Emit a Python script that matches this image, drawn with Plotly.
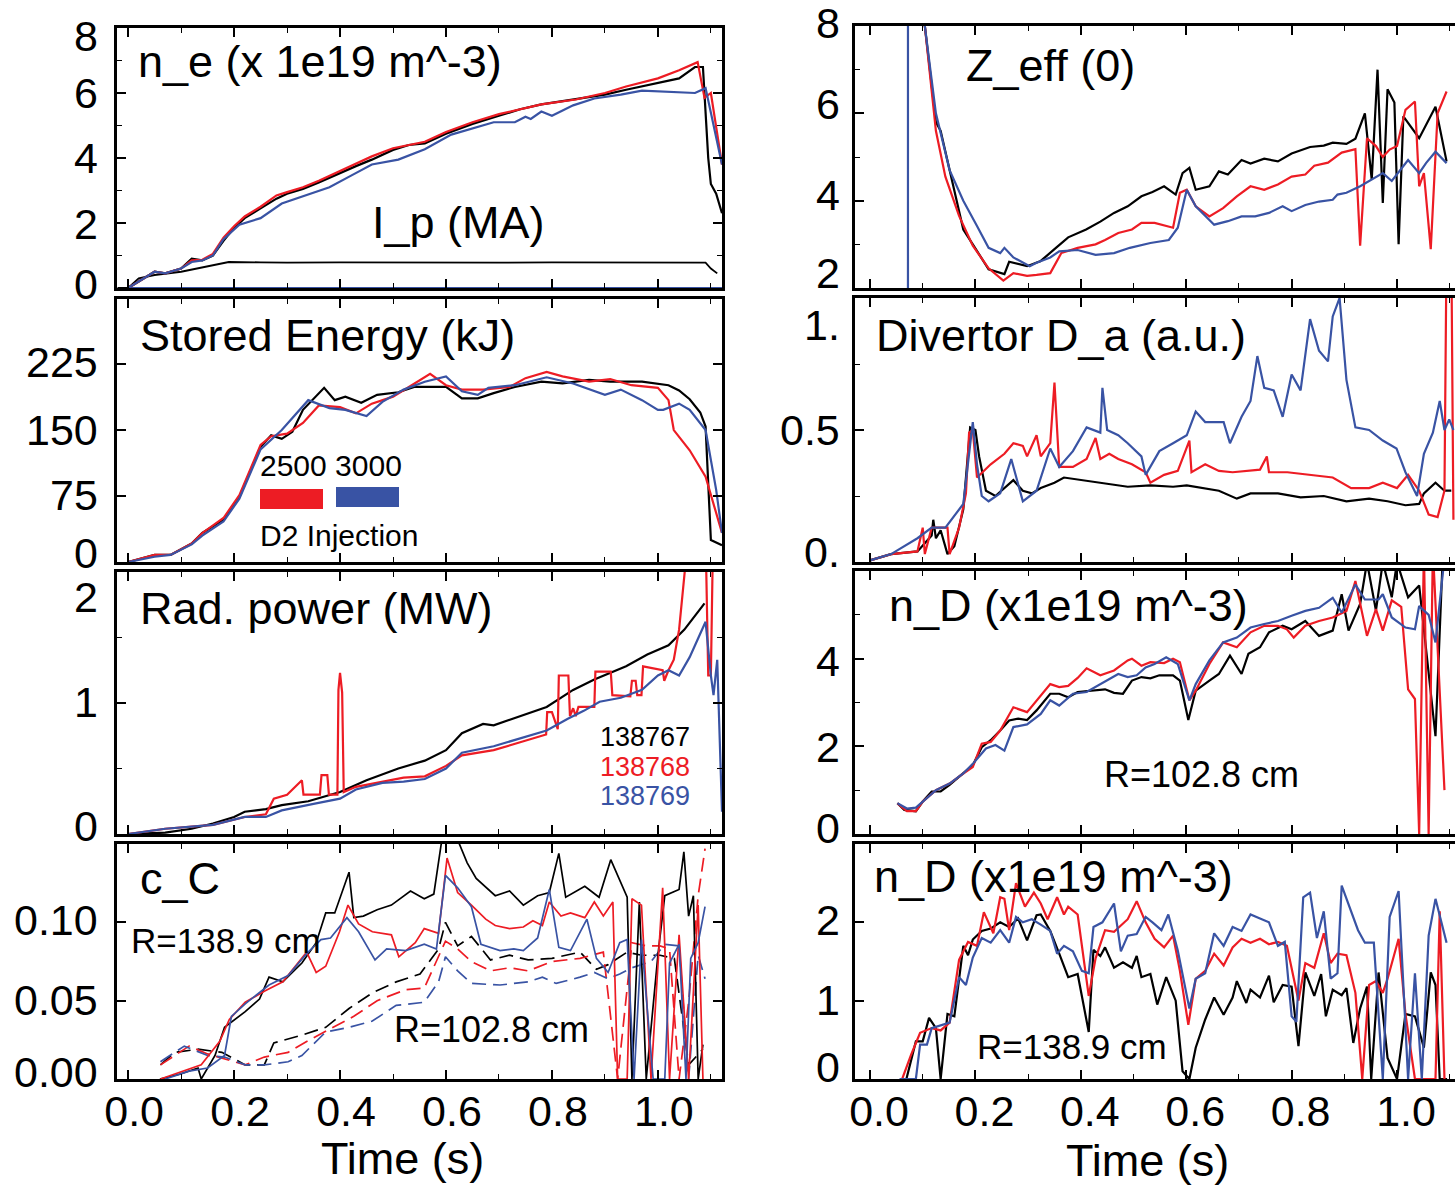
import plotly.graph_objects as go

W, H = 1455, 1185
BLACK, RED, BLUE = "#000000", "#ED1C24", "#3953A4"
FONT = "Liberation Sans, Arial, Helvetica, sans-serif"

# ---------------- DATA ----------------
# Panel 1: n_e (x 1e19 m^-3) and I_p (MA)
ne_black_t = [0, 0.03, 0.05, 0.07, 0.1, 0.12, 0.14, 0.16, 0.18, 0.2, 0.22, 0.25, 0.28, 0.3, 0.33, 0.36, 0.4, 0.43, 0.46, 0.5, 0.53, 0.56, 0.6, 0.65, 0.7, 0.74, 0.78, 0.845, 0.9, 0.94, 1.0, 1.04, 1.07, 1.085, 1.095, 1.10, 1.11, 1.121]
ne_black_v = [0, 0.3, 0.5, 0.45, 0.6, 0.9, 0.85, 1.0, 1.45, 1.85, 2.15, 2.45, 2.75, 2.9, 3.05, 3.25, 3.55, 3.75, 3.95, 4.25, 4.4, 4.45, 4.75, 5.05, 5.3, 5.5, 5.65, 5.8, 5.95, 6.1, 6.3, 6.45, 6.8, 6.8, 4.0, 3.2, 2.9, 2.3]
ne_red_t = [0, 0.03, 0.05, 0.07, 0.1, 0.12, 0.14, 0.16, 0.18, 0.2, 0.22, 0.25, 0.28, 0.3, 0.33, 0.36, 0.4, 0.43, 0.46, 0.5, 0.53, 0.56, 0.6, 0.65, 0.7, 0.74, 0.78, 0.845, 0.9, 0.94, 1.0, 1.04, 1.075, 1.088, 1.1, 1.121]
ne_red_v = [0, 0.3, 0.5, 0.45, 0.6, 0.85, 0.87, 1.05, 1.55, 1.9, 2.2, 2.5, 2.85, 2.95, 3.1, 3.3, 3.6, 3.8, 4.05, 4.3, 4.4, 4.5, 4.8, 5.1, 5.35, 5.5, 5.65, 5.8, 6.0, 6.2, 6.45, 6.7, 6.95, 5.85, 6.0, 3.8]
ne_blue_t = [0, 0.03, 0.05, 0.07, 0.1, 0.12, 0.14, 0.16, 0.18, 0.21, 0.25, 0.29, 0.35, 0.38, 0.42, 0.46, 0.51, 0.56, 0.61, 0.65, 0.69, 0.73, 0.75, 0.76, 0.78, 0.80, 0.84, 0.88, 0.93, 0.97, 1.01, 1.07, 1.09, 1.121]
ne_blue_v = [0, 0.3, 0.5, 0.45, 0.6, 0.8, 0.85, 1.0, 1.5, 1.95, 2.15, 2.6, 2.92, 3.1, 3.45, 3.8, 3.95, 4.27, 4.72, 4.9, 5.1, 5.1, 5.27, 5.2, 5.43, 5.3, 5.62, 5.83, 5.95, 6.07, 6.05, 6.0, 6.15, 3.8]
ip_black_t = [-0.02, 0.0, 0.02, 0.05, 0.1, 0.13, 0.16, 0.19, 0.25, 0.3, 0.4, 0.5, 0.6, 0.7, 0.8, 0.9, 1.0, 1.05, 1.09, 1.10, 1.112]
ip_black_v = [0, 0, 0.3, 0.4, 0.5, 0.6, 0.7, 0.8, 0.79, 0.78, 0.79, 0.78, 0.79, 0.78, 0.79, 0.78, 0.79, 0.78, 0.78, 0.6, 0.45]
ip_blue_t = [0.0, 1.121]
ip_blue_v = [0, 0]

# Panel 2: Stored energy (kJ)
we_black_t = [0, 0.05, 0.08, 0.12, 0.14, 0.18, 0.21, 0.25, 0.27, 0.29, 0.31, 0.33, 0.37, 0.39, 0.41, 0.44, 0.47, 0.51, 0.54, 0.6, 0.63, 0.66, 0.69, 0.73, 0.78, 0.82, 0.87, 0.91, 0.97, 1.02, 1.04, 1.06, 1.08, 1.09, 1.1, 1.121]
we_black_v = [0, 8, 8, 21, 33, 48, 74, 131, 144, 140, 148, 173, 198, 184, 188, 181, 190, 193, 199, 199, 186, 186, 192, 199, 205, 203, 207, 205, 205, 201, 195, 185, 170, 154, 25, 19]
we_red_t = [0, 0.05, 0.08, 0.12, 0.14, 0.18, 0.21, 0.25, 0.27, 0.30, 0.33, 0.36, 0.40, 0.43, 0.46, 0.50, 0.53, 0.57, 0.60, 0.63, 0.67, 0.72, 0.75, 0.79, 0.82, 0.87, 0.91, 0.95, 1.0, 1.02, 1.03, 1.06, 1.09, 1.121]
we_red_v = [0, 8, 8, 21, 33, 50, 76, 133, 143, 146, 158, 178, 176, 169, 180, 188, 199, 214, 201, 196, 196, 199, 209, 216, 211, 205, 208, 201, 198, 184, 150, 127, 97, 33]
we_blue_t = [0, 0.05, 0.08, 0.12, 0.14, 0.18, 0.21, 0.25, 0.29, 0.34, 0.38, 0.41, 0.45, 0.48, 0.52, 0.56, 0.6, 0.63, 0.66, 0.68, 0.73, 0.79, 0.84, 0.9, 0.93, 0.97, 1.0, 1.01, 1.04, 1.06, 1.09, 1.11, 1.121]
we_blue_v = [0, 6, 8, 20, 30, 46, 72, 128, 150, 184, 175, 173, 166, 182, 196, 205, 211, 194, 190, 198, 201, 210, 203, 190, 196, 184, 173, 173, 180, 173, 150, 82, 33]

# Panel 3: Radiated power (MW)
pr_black_t = [0, 0.07, 0.12, 0.16, 0.2, 0.22, 0.26, 0.29, 0.34, 0.4, 0.45, 0.51, 0.56, 0.6, 0.63, 0.67, 0.69, 0.74, 0.79, 0.84, 0.88, 0.94, 0.98, 1.02, 1.05, 1.088]
pr_black_v = [0, 0.01, 0.04, 0.08, 0.13, 0.17, 0.19, 0.22, 0.25, 0.32, 0.41, 0.5, 0.56, 0.64, 0.77, 0.84, 0.83, 0.9, 0.97, 1.1, 1.18, 1.28, 1.37, 1.44, 1.56, 1.76]
pr_red_t = [0, 0.07, 0.16, 0.22, 0.26, 0.275, 0.30, 0.328, 0.331, 0.362, 0.365, 0.376, 0.379, 0.395, 0.397, 0.40, 0.404, 0.407, 0.43, 0.48, 0.52, 0.56, 0.6, 0.63, 0.69, 0.74, 0.789, 0.791, 0.80, 0.811, 0.813, 0.831, 0.834, 0.84, 0.845, 0.85, 0.88, 0.882, 0.911, 0.914, 0.948, 0.951, 0.958, 0.961, 0.969, 0.972, 1.009, 1.012, 1.02, 1.03, 1.04, 1.053, 1.06, 1.089, 1.095, 1.10, 1.105, 1.11]
pr_red_v = [0, 0.04, 0.07, 0.13, 0.15, 0.27, 0.3, 0.41, 0.3, 0.3, 0.45, 0.45, 0.3, 0.3, 1.1, 1.23, 1.08, 0.32, 0.36, 0.4, 0.43, 0.44, 0.52, 0.6, 0.64, 0.7, 0.76, 0.93, 0.93, 0.8, 1.21, 1.21, 0.9, 0.96, 0.9, 0.97, 0.97, 1.24, 1.24, 1.06, 1.05, 1.17, 1.17, 1.06, 1.06, 1.28, 1.25, 1.17, 1.25, 1.33, 1.56, 2.1, 2.5, 2.5, 1.21, 1.21, 2.5, 2.5]
pr_blue_t = [0, 0.07, 0.16, 0.22, 0.26, 0.29, 0.35, 0.4, 0.43, 0.48, 0.52, 0.56, 0.6, 0.63, 0.69, 0.74, 0.79, 0.83, 0.86, 0.89, 0.93, 0.97, 1.0, 1.02, 1.04, 1.06, 1.09, 1.1, 1.105, 1.112, 1.121]
pr_blue_v = [0, 0.04, 0.07, 0.13, 0.13, 0.18, 0.23, 0.27, 0.34, 0.39, 0.4, 0.42, 0.5, 0.62, 0.67, 0.73, 0.79, 0.88, 0.94, 1.01, 1.04, 1.1, 1.21, 1.25, 1.21, 1.35, 1.62, 1.21, 1.06, 1.33, 0.17]

# Panel 4: carbon concentration c_C, R=138.9 cm (solid) and R=102.8 cm (dashed)
cc_out_black_t = [0.06, 0.097, 0.132, 0.138, 0.164, 0.182, 0.221, 0.248, 0.266, 0.292, 0.328, 0.355, 0.373, 0.39, 0.417, 0.426, 0.444, 0.47, 0.497, 0.533, 0.559, 0.577, 0.591, 0.613, 0.64, 0.657, 0.693, 0.72, 0.746, 0.773, 0.795, 0.813, 0.826, 0.862, 0.889, 0.911, 0.942, 0.951, 0.965, 0.978, 1.0, 1.013, 1.04, 1.049, 1.058, 1.067, 1.076, 1.085]
cc_out_black_v = [0, 0.003, 0.007, 0, 0.015, 0.033, 0.043, 0.051, 0.065, 0.062, 0.074, 0.087, 0.106, 0.106, 0.132, 0.103, 0.104, 0.108, 0.111, 0.12, 0.115, 0.118, 0.15, 0.16, 0.138, 0.128, 0.117, 0.12, 0.111, 0.117, 0.119, 0.144, 0.116, 0.123, 0.116, 0.14, 0.116, 0, 0.113, 0, 0.079, 0.117, 0.121, 0.145, 0.104, 0.117, 0, 0.022]
cc_out_red_t = [0.061, 0.115, 0.138, 0.173, 0.191, 0.221, 0.257, 0.292, 0.337, 0.355, 0.373, 0.399, 0.415, 0.435, 0.461, 0.497, 0.511, 0.542, 0.559, 0.586, 0.602, 0.622, 0.648, 0.675, 0.693, 0.72, 0.746, 0.764, 0.782, 0.795, 0.817, 0.835, 0.862, 0.88, 0.897, 0.915, 0.924, 0.942, 0.951, 0.969, 0.987, 1.009, 1.022, 1.04, 1.058, 1.076, 1.085]
cc_out_red_v = [0, 0.006, 0.009, 0.024, 0.038, 0.049, 0.056, 0.062, 0.081, 0.068, 0.072, 0.094, 0.111, 0.099, 0.094, 0.092, 0.078, 0.087, 0.096, 0.093, 0.141, 0.119, 0.111, 0.102, 0.098, 0.096, 0.097, 0.101, 0.098, 0.113, 0.104, 0.106, 0.103, 0.113, 0.104, 0.113, 0, 0, 0.115, 0.111, 0, 0.122, 0, 0.092, 0, 0.111, 0]
cc_out_blue_t = [0.07, 0.115, 0.15, 0.182, 0.195, 0.221, 0.266, 0.302, 0.337, 0.364, 0.382, 0.413, 0.435, 0.466, 0.488, 0.524, 0.559, 0.582, 0.599, 0.622, 0.648, 0.666, 0.702, 0.728, 0.746, 0.773, 0.795, 0.813, 0.835, 0.866, 0.884, 0.906, 0.928, 0.942, 0.955, 0.969, 0.991, 1.013, 1.022, 1.04, 1.053, 1.062, 1.076, 1.089]
cc_out_blue_v = [0, 0.005, 0.007, 0.015, 0.04, 0.048, 0.06, 0.066, 0.08, 0.089, 0.09, 0.103, 0.094, 0.076, 0.083, 0.082, 0.086, 0.083, 0.13, 0.122, 0.11, 0.086, 0.082, 0.083, 0.082, 0.09, 0.121, 0.084, 0.082, 0.102, 0.077, 0.068, 0.087, 0.089, 0, 0.089, 0, 0, 0.074, 0.086, 0, 0.077, 0.087, 0.11]
cc_in_black_t = [0.061, 0.088, 0.132, 0.177, 0.221, 0.257, 0.275, 0.328, 0.373, 0.417, 0.461, 0.506, 0.551, 0.586, 0.599, 0.622, 0.648, 0.684, 0.72, 0.755, 0.8, 0.853, 0.884, 0.906, 0.942, 0.969, 1.004, 1.031, 1.058, 1.085]
cc_in_black_v = [0.009, 0.017, 0.019, 0.017, 0.009, 0.009, 0.023, 0.028, 0.033, 0.045, 0.055, 0.062, 0.067, 0.083, 0.1, 0.085, 0.091, 0.076, 0.079, 0.076, 0.077, 0.081, 0.07, 0.073, 0.081, 0.079, 0.079, 0.077, 0.009, 0.019]
cc_in_red_t = [0.061, 0.115, 0.15, 0.182, 0.221, 0.257, 0.302, 0.337, 0.382, 0.426, 0.47, 0.524, 0.559, 0.599, 0.622, 0.648, 0.684, 0.72, 0.755, 0.8, 0.853, 0.897, 0.924, 0.951, 0.978, 1.004, 1.022, 1.04, 1.058, 1.076, 1.089]
cc_in_red_v = [0.009, 0.021, 0.016, 0.013, 0.009, 0.014, 0.017, 0.024, 0.032, 0.04, 0.05, 0.057, 0.058, 0.088, 0.083, 0.075, 0.069, 0.071, 0.069, 0.075, 0.077, 0.081, 0, 0.087, 0.085, 0.085, 0.083, 0, 0.049, 0.117, 0.147]
cc_in_blue_t = [0.061, 0.106, 0.15, 0.182, 0.221, 0.257, 0.302, 0.328, 0.373, 0.417, 0.461, 0.506, 0.559, 0.586, 0.599, 0.622, 0.648, 0.702, 0.755, 0.782, 0.808, 0.853, 0.88, 0.906, 0.928, 0.951, 0.987, 1.013, 1.04, 1.058, 1.076, 1.089]
cc_in_blue_v = [0.011, 0.021, 0.015, 0.014, 0.009, 0.009, 0.011, 0.015, 0.03, 0.033, 0.037, 0.047, 0.049, 0.062, 0.078, 0.069, 0.061, 0.06, 0.062, 0.065, 0.061, 0.065, 0.068, 0.064, 0.067, 0.071, 0.075, 0.086, 0.085, 0, 0.079, 0.064]

# Panel 5: Z_eff(0)
zf_black_t = [0.09, 0.104, 0.125, 0.134, 0.151, 0.177, 0.195, 0.225, 0.255, 0.264, 0.298, 0.324, 0.35, 0.376, 0.41, 0.437, 0.463, 0.489, 0.515, 0.536, 0.558, 0.58, 0.593, 0.606, 0.618, 0.644, 0.662, 0.679, 0.705, 0.722, 0.748, 0.774, 0.8, 0.835, 0.861, 0.878, 0.904, 0.921, 0.939, 0.952, 0.963, 0.973, 0.982, 0.995, 1.003, 1.012, 1.042, 1.073, 1.094]
zf_black_v = [14, 8.0, 5.8, 5.6, 4.7, 3.34, 3.0, 2.43, 2.32, 2.6, 2.5, 2.62, 2.89, 3.16, 3.34, 3.52, 3.72, 3.87, 4.1, 4.2, 4.33, 4.14, 4.63, 4.75, 4.25, 4.33, 4.67, 4.6, 4.93, 4.85, 4.96, 4.9, 5.08, 5.23, 5.26, 5.33, 5.3, 5.42, 6.0, 4.48, 7.0, 3.95, 6.55, 6.25, 3.0, 5.93, 5.43, 6.15, 4.9]
zf_red_t = [0.09, 0.104, 0.125, 0.143, 0.169, 0.195, 0.225, 0.253, 0.272, 0.298, 0.316, 0.342, 0.363, 0.394, 0.428, 0.446, 0.471, 0.497, 0.515, 0.54, 0.575, 0.588, 0.601, 0.618, 0.644, 0.67, 0.696, 0.722, 0.748, 0.774, 0.8, 0.826, 0.843, 0.869, 0.895, 0.921, 0.93, 0.943, 0.96, 0.973, 0.986, 1.0, 1.016, 1.034, 1.042, 1.051, 1.064, 1.077, 1.094]
zf_red_v = [14, 8.0, 5.6, 4.55, 3.65, 2.97, 2.45, 2.17, 2.34, 2.28, 2.3, 2.34, 2.8, 2.92, 3.0, 3.1, 3.26, 3.34, 3.49, 3.49, 3.38, 4.18, 4.25, 3.87, 3.64, 3.83, 4.1, 4.33, 4.25, 4.37, 4.55, 4.6, 4.8, 4.87, 5.1, 5.18, 2.97, 5.43, 5.25, 5.0, 5.17, 5.25, 6.08, 6.27, 4.33, 4.63, 2.89, 6.0, 6.5]
zf_blue_t = [0.072, 0.0721, 0.104, 0.125, 0.151, 0.177, 0.203, 0.225, 0.247, 0.255, 0.272, 0.303, 0.316, 0.342, 0.359, 0.394, 0.428, 0.463, 0.493, 0.532, 0.567, 0.584, 0.601, 0.618, 0.653, 0.679, 0.705, 0.731, 0.757, 0.783, 0.8, 0.826, 0.852, 0.878, 0.887, 0.904, 0.93, 0.947, 0.973, 0.99, 1.021, 1.042, 1.055, 1.073, 1.094]
zf_blue_v = [0, 40, 8.0, 6.0, 4.7, 4.0, 3.42, 2.92, 2.8, 2.92, 2.7, 2.5, 2.58, 2.7, 2.84, 2.87, 2.76, 2.8, 2.92, 3.03, 3.1, 3.38, 4.25, 3.87, 3.45, 3.53, 3.64, 3.64, 3.72, 3.87, 3.76, 3.9, 3.98, 4.02, 4.14, 4.18, 4.33, 4.45, 4.63, 4.45, 4.93, 4.63, 4.86, 5.12, 4.86]

# Panel 6: Divertor D_alpha (a.u.)
da_black_t = [0, 0.04, 0.09, 0.117, 0.12, 0.125, 0.134, 0.147, 0.16, 0.177, 0.19, 0.2, 0.207, 0.22, 0.238, 0.272, 0.29, 0.307, 0.324, 0.35, 0.368, 0.402, 0.445, 0.489, 0.532, 0.575, 0.601, 0.618, 0.662, 0.696, 0.722, 0.774, 0.817, 0.861, 0.904, 0.947, 0.982, 1.016, 1.042, 1.051, 1.073, 1.09, 1.103]
da_black_v = [0.006, 0.03, 0.04, 0.1, 0.16, 0.09, 0.12, 0.03, 0.06, 0.2, 0.51, 0.5, 0.4, 0.27, 0.25, 0.31, 0.27, 0.26, 0.28, 0.3, 0.32, 0.31, 0.3, 0.285, 0.29, 0.285, 0.29, 0.285, 0.27, 0.24, 0.26, 0.26, 0.245, 0.25, 0.23, 0.24, 0.23, 0.215, 0.22, 0.26, 0.3, 0.27, 0.27]
da_red_t = [0, 0.04, 0.09, 0.095, 0.1, 0.104, 0.117, 0.147, 0.151, 0.169, 0.182, 0.188, 0.195, 0.203, 0.229, 0.255, 0.272, 0.29, 0.298, 0.316, 0.324, 0.342, 0.35, 0.359, 0.385, 0.411, 0.428, 0.437, 0.454, 0.471, 0.497, 0.523, 0.532, 0.558, 0.584, 0.606, 0.61, 0.636, 0.662, 0.688, 0.714, 0.74, 0.753, 0.757, 0.792, 0.835, 0.878, 0.913, 0.947, 0.973, 1.0, 1.021, 1.042, 1.06, 1.077, 1.09, 1.094, 1.103, 1.107]
da_red_v = [0.006, 0.03, 0.04, 0.09, 0.13, 0.03, 0.13, 0.13, 0.03, 0.13, 0.26, 0.49, 0.5, 0.32, 0.37, 0.41, 0.45, 0.44, 0.4, 0.48, 0.4, 0.45, 0.68, 0.36, 0.36, 0.39, 0.47, 0.39, 0.41, 0.39, 0.37, 0.34, 0.3, 0.33, 0.345, 0.46, 0.34, 0.37, 0.345, 0.34, 0.345, 0.35, 0.4, 0.34, 0.34, 0.33, 0.32, 0.28, 0.28, 0.3, 0.28, 0.33, 0.27, 0.18, 0.17, 0.27, 1.2, 1.2, 0.16]
da_blue_t = [0, 0.04, 0.09, 0.117, 0.143, 0.169, 0.177, 0.195, 0.203, 0.212, 0.225, 0.247, 0.268, 0.29, 0.316, 0.342, 0.359, 0.385, 0.411, 0.437, 0.441, 0.45, 0.471, 0.489, 0.515, 0.523, 0.549, 0.575, 0.601, 0.618, 0.636, 0.671, 0.683, 0.705, 0.722, 0.735, 0.748, 0.766, 0.783, 0.8, 0.817, 0.835, 0.852, 0.869, 0.878, 0.891, 0.904, 0.921, 0.947, 0.973, 0.999, 1.016, 1.038, 1.051, 1.068, 1.081, 1.09, 1.099, 1.107]
da_blue_v = [0.006, 0.03, 0.09, 0.13, 0.13, 0.2, 0.22, 0.53, 0.37, 0.25, 0.23, 0.26, 0.39, 0.23, 0.27, 0.43, 0.36, 0.42, 0.51, 0.49, 0.66, 0.5, 0.48, 0.45, 0.4, 0.33, 0.42, 0.45, 0.48, 0.57, 0.53, 0.53, 0.45, 0.55, 0.61, 0.78, 0.66, 0.65, 0.55, 0.71, 0.65, 0.92, 0.8, 0.76, 0.93, 1.0, 0.69, 0.51, 0.5, 0.46, 0.43, 0.34, 0.25, 0.41, 0.49, 0.61, 0.5, 0.54, 0.5]

# Panel 7: n_D (x1e19 m^-3), R=102.8 cm
nd_in_black_t = [0.052, 0.065, 0.087, 0.1, 0.117, 0.134, 0.151, 0.177, 0.195, 0.212, 0.229, 0.247, 0.264, 0.281, 0.298, 0.316, 0.342, 0.359, 0.376, 0.394, 0.42, 0.446, 0.463, 0.48, 0.497, 0.515, 0.532, 0.549, 0.575, 0.588, 0.604, 0.618, 0.644, 0.662, 0.683, 0.705, 0.718, 0.74, 0.757, 0.783, 0.8, 0.826, 0.852, 0.878, 0.895, 0.908, 0.93, 0.943, 0.96, 0.973, 0.99, 1.0, 1.021, 1.042, 1.073, 1.086]
nd_in_black_v = [0.7, 0.55, 0.52, 0.74, 0.97, 0.97, 1.12, 1.38, 1.57, 1.98, 2.14, 2.36, 2.59, 2.63, 2.6, 2.82, 3.2, 3.2, 3.12, 3.24, 3.27, 3.3, 3.22, 3.2, 3.5, 3.58, 3.55, 3.62, 3.62, 3.5, 2.6, 3.27, 3.5, 3.65, 4.07, 3.65, 4.11, 4.26, 4.6, 4.75, 4.67, 4.86, 4.52, 4.64, 5.47, 4.64, 5.25, 6.2, 5.1, 6.2, 5.4, 6.2, 5.4, 5.67, 2.23, 6.1]
nd_in_red_t = [0.052, 0.07, 0.087, 0.1, 0.125, 0.151, 0.177, 0.195, 0.212, 0.229, 0.247, 0.272, 0.298, 0.324, 0.342, 0.359, 0.376, 0.394, 0.411, 0.437, 0.463, 0.489, 0.497, 0.515, 0.532, 0.558, 0.575, 0.588, 0.606, 0.618, 0.644, 0.67, 0.696, 0.722, 0.748, 0.774, 0.791, 0.804, 0.826, 0.852, 0.878, 0.904, 0.921, 0.943, 0.96, 0.973, 0.99, 1.008, 1.021, 1.034, 1.042, 1.051, 1.06, 1.068, 1.09]
nd_in_red_v = [0.7, 0.52, 0.52, 0.74, 1.0, 1.15, 1.38, 1.53, 2.06, 2.1, 2.36, 2.89, 2.78, 3.16, 3.42, 3.35, 3.38, 3.56, 3.78, 3.62, 3.73, 3.96, 4.0, 3.84, 3.92, 3.9, 4.0, 3.92, 3.05, 3.27, 3.88, 4.37, 4.26, 4.6, 4.75, 4.75, 4.67, 4.48, 4.75, 4.86, 4.94, 5.09, 5.77, 4.52, 5.13, 4.64, 5.33, 5.18, 3.3, 3.08, 0, 6.5, 0, 6.5, 1.0]
nd_in_blue_t = [0.052, 0.07, 0.087, 0.1, 0.125, 0.151, 0.177, 0.195, 0.22, 0.238, 0.255, 0.272, 0.298, 0.324, 0.342, 0.359, 0.385, 0.411, 0.437, 0.454, 0.471, 0.489, 0.506, 0.523, 0.54, 0.562, 0.584, 0.606, 0.618, 0.644, 0.67, 0.696, 0.722, 0.748, 0.774, 0.8, 0.826, 0.852, 0.878, 0.895, 0.921, 0.939, 0.965, 0.973, 0.99, 1.016, 1.034, 1.042, 1.06, 1.073, 1.09]
nd_in_blue_v = [0.7, 0.58, 0.6, 0.74, 1.0, 1.15, 1.38, 1.6, 1.95, 2.03, 1.9, 2.44, 2.5, 2.74, 3.05, 2.93, 3.2, 3.24, 3.42, 3.54, 3.65, 3.58, 3.62, 3.8, 3.88, 4.03, 3.88, 3.05, 3.42, 3.96, 4.37, 4.48, 4.71, 4.79, 4.86, 4.98, 5.09, 5.16, 5.39, 5.05, 5.69, 5.35, 5.35, 5.47, 4.94, 4.71, 4.67, 5.2, 5.0, 4.37, 6.3]

# Panel 8: n_D (x1e19 m^-3), R=138.9 cm
nd_out_black_t = [0.069, 0.087, 0.1, 0.112, 0.125, 0.134, 0.147, 0.16, 0.177, 0.186, 0.195, 0.212, 0.229, 0.247, 0.264, 0.281, 0.298, 0.316, 0.324, 0.342, 0.359, 0.376, 0.394, 0.415, 0.424, 0.437, 0.446, 0.463, 0.48, 0.497, 0.506, 0.515, 0.532, 0.545, 0.562, 0.58, 0.593, 0.606, 0.618, 0.636, 0.653, 0.671, 0.688, 0.696, 0.714, 0.722, 0.74, 0.757, 0.766, 0.783, 0.8, 0.813, 0.826, 0.843, 0.856, 0.865, 0.878, 0.895, 0.904, 0.917, 0.93, 0.943, 0.951, 0.965, 0.982, 1.0, 1.016, 1.034, 1.051, 1.064, 1.073, 1.081, 1.095]
nd_out_black_v = [0, 0.48, 0.48, 0.78, 0.65, 0, 0.83, 0.8, 1.7, 1.58, 1.78, 1.89, 1.92, 2.0, 1.94, 2.05, 1.77, 2.09, 2.1, 1.89, 1.6, 1.3, 1.34, 0.6, 1.65, 1.57, 1.68, 1.42, 1.49, 1.42, 1.57, 1.3, 1.34, 0.95, 1.3, 1.0, 0.1, 0, 0.4, 0.76, 1.04, 0.82, 1.04, 1.25, 0.97, 1.14, 1.04, 1.32, 0.98, 1.2, 1.18, 0.42, 1.36, 1.06, 1.34, 0.8, 1.14, 1.07, 1.16, 0.46, 0.9, 1.18, 0, 1.36, 0.27, 0, 0.83, 0.8, 0.4, 1.36, 1.2, 0, 0]
nd_out_red_t = [0.061, 0.078, 0.095, 0.117, 0.134, 0.151, 0.169, 0.186, 0.203, 0.216, 0.234, 0.247, 0.255, 0.264, 0.277, 0.294, 0.311, 0.324, 0.337, 0.355, 0.368, 0.376, 0.394, 0.415, 0.428, 0.446, 0.463, 0.489, 0.506, 0.523, 0.54, 0.558, 0.575, 0.588, 0.604, 0.618, 0.636, 0.653, 0.671, 0.688, 0.705, 0.722, 0.74, 0.757, 0.774, 0.791, 0.813, 0.826, 0.843, 0.861, 0.874, 0.887, 0.904, 0.921, 0.934, 0.947, 0.96, 0.973, 0.982, 1.003, 1.016, 1.034, 1.051, 1.073, 1.081, 1.09]
nd_out_red_v = [0, 0.31, 0.59, 0.65, 0.62, 0.72, 1.52, 1.75, 1.7, 2.13, 1.86, 2.32, 2.3, 1.9, 2.5, 2.2, 2.38, 2.24, 2.04, 2.32, 2.1, 2.2, 2.1, 1.06, 1.54, 1.9, 1.88, 2.04, 2.27, 2.0, 1.79, 1.68, 1.83, 1.38, 0.69, 1.28, 1.38, 1.6, 1.45, 1.68, 1.79, 1.74, 1.79, 1.72, 1.75, 1.7, 1.0, 1.48, 1.42, 1.86, 1.48, 1.6, 1.58, 1.1, 0, 1.2, 1.25, 1.1, 1.28, 1.79, 0.83, 0, 0, 0, 2.14, 0]
nd_out_blue_t = [0.056, 0.087, 0.095, 0.108, 0.117, 0.151, 0.169, 0.182, 0.195, 0.212, 0.229, 0.247, 0.264, 0.277, 0.29, 0.307, 0.324, 0.342, 0.355, 0.368, 0.385, 0.402, 0.415, 0.424, 0.441, 0.463, 0.476, 0.489, 0.506, 0.523, 0.536, 0.553, 0.566, 0.584, 0.606, 0.618, 0.636, 0.653, 0.671, 0.688, 0.705, 0.722, 0.74, 0.757, 0.774, 0.787, 0.8, 0.809, 0.822, 0.835, 0.848, 0.861, 0.874, 0.887, 0.895, 0.913, 0.926, 0.939, 0.956, 0.973, 0.986, 1.003, 1.021, 1.034, 1.047, 1.06, 1.073, 1.094]
nd_out_blue_v = [0, 0, 0.44, 0.44, 0.65, 0.72, 1.3, 1.2, 1.55, 1.8, 1.74, 1.9, 1.74, 2.07, 2.0, 2.04, 1.97, 1.89, 1.6, 1.7, 1.63, 1.38, 1.35, 1.94, 2.0, 2.24, 1.63, 1.83, 1.85, 2.07, 2.0, 1.9, 2.1, 1.64, 0.9, 1.28, 1.35, 1.86, 1.7, 1.94, 1.89, 2.1, 2.05, 2.0, 1.7, 1.75, 0.8, 0.73, 2.32, 2.38, 1.8, 2.14, 1.28, 1.35, 2.47, 2.15, 1.9, 1.74, 1.74, 0, 2.07, 2.4, 0, 1.35, 0, 1.83, 2.3, 1.74]

# Axis ticks and tick labels
x_major = [0.0, 0.2, 0.4, 0.6, 0.8, 1.0]
x_minor = [0.1, 0.3, 0.5, 0.7, 0.9, 1.1]
y_ticks = [
    [8, 6, 4, 2, 0],
    [225, 150, 75, 0],
    [2, 1, 0],
    [0.10, 0.05, 0.0],
    [8, 6, 4, 2],
    [1.0, 0.5, 0.0],
    [4, 2, 0],
    [2, 1, 0],
]
y_ticktext = [
    ["8", "6", "4", "2", "0"],
    ["225", "150", "75", "0"],
    ["2", "1", "0"],
    ["0.10", "0.05", "0.00"],
    ["8", "6", "4", "2"],
    ["1.", "0.5", "0."],
    ["4", "2", "0"],
    ["2", "1", "0"],
]
y_minor = [[1, 3, 5, 7], [], [0.5, 1.5], [], [3, 5, 7], [0.25, 0.75], [1, 3, 5], []]
y_ranges = [[0, 8], [0, 299], [0, 2.0], [0, 0.15], [2, 8], [0, 1.0], [0, 6], [0, 3]]

# ---------------- STYLE / LAYOUT ----------------
# vertical label nudges (px, + = up), IDL-style end labels pushed inside the frame
y_label_shift = [
    [-8, 0, 0, -1, 4],
    [2, 0, 1, 9],
    [-25, 1, 8],
    [2, 1, 7],
    [3, 9, 6, 15],
    [-27, 0, 10],
    [-2, -1, 6],
    [2, 1, 12],
]
LEFT = (117, 722)
RIGHT = (855, 1455)
frames = [
    (LEFT, (28, 288)), (LEFT, (299, 562)), (LEFT, (572, 834)), (LEFT, (844, 1079)),
    (RIGHT, (26, 288)), (RIGHT, (298, 562)), (RIGHT, (571, 834)), (RIGHT, (844, 1079)),
]

fig = go.Figure()


def xd(x0, x1):
    return [max(0.0, x0 / W), min(1.0, x1 / W)]


def yd(top, bot):
    return [1 - bot / H, 1 - top / H]


tickfont = dict(family=FONT, size=43, color="black")
TK = dict(ticks="inside", ticklen=9, tickwidth=1.6, tickcolor="black")
MTK = dict(ticks="inside", ticklen=5, tickwidth=1.4, tickcolor="black")

for i, (xp, yp) in enumerate(frames):
    n = i + 1
    sfx = "" if n == 1 else str(n)
    left = xp == LEFT
    xr = [-0.021, 1.121] if left else [-0.0285, 1.110]
    showx = n in (4, 8)
    fig.layout["xaxis" + sfx] = dict(
        domain=xd(*xp), anchor="y" + sfx, range=xr,
        tickmode="array", tickvals=x_major, tickformat=".1f", **TK,
        minor=dict(tickmode="array", tickvals=x_minor, **MTK),
        showline=True, linewidth=2.5, linecolor="black", mirror="ticks",
        showgrid=False, zeroline=False, showticklabels=showx,
        tickfont=tickfont, ticklabelstandoff=-7, ticklabelshift=6 if left else 9,
    )
    ydict = dict(
        domain=yd(*yp), anchor="x" + sfx, range=y_ranges[i],
        tickmode="array", tickvals=y_ticks[i], **TK,
        showline=True, linewidth=2.5, linecolor="black",
        mirror="ticks" if left else False,
        showgrid=False, zeroline=False, showticklabels=False,
    )
    if y_minor[i]:
        ydict["minor"] = dict(tickmode="array", tickvals=y_minor[i], **MTK)
    fig.layout["yaxis" + sfx] = ydict
    if not left:
        # right-hand ticks of the right column (frame line itself is cut off by the page edge)
        m = n + 4
        od = dict(
            domain=yd(*yp), anchor="x" + sfx, overlaying="y" + sfx, side="right",
            range=y_ranges[i], tickmode="array", tickvals=y_ticks[i], **TK,
            showline=False, showgrid=False, zeroline=False, showticklabels=False,
        )
        if y_minor[i]:
            od["minor"] = dict(tickmode="array", tickvals=y_minor[i], **MTK)
        fig.layout["yaxis" + str(m)] = od
    # y tick labels, placed on the axis scale
    xr_lab = (100 if left else 842) / W
    for val, lab, sh in zip(y_ticks[i], y_ticktext[i], y_label_shift[i]):
        fig.add_annotation(x=xr_lab, y=val, xref="paper", yref="y" + sfx, text=lab,
                           showarrow=False, xanchor="right", yanchor="middle", yshift=sh,
                           font=tickfont)


def add(t, v, color, n, dash=None, width=2.2):
    ax = "" if n == 1 else str(n)
    fig.add_trace(go.Scatter(
        x=t, y=v, mode="lines", xaxis="x" + ax, yaxis="y" + ax,
        line=dict(color=color, width=width, dash=dash), showlegend=False, hoverinfo="skip",
    ))


# panel 1
add(ip_blue_t, ip_blue_v, BLUE, 1)
add(ip_black_t, ip_black_v, BLACK, 1, width=1.8)
add(ne_black_t, ne_black_v, BLACK, 1)
add(ne_red_t, ne_red_v, RED, 1)
add(ne_blue_t, ne_blue_v, BLUE, 1)
# panel 2
add(we_black_t, we_black_v, BLACK, 2)
add(we_red_t, we_red_v, RED, 2)
add(we_blue_t, we_blue_v, BLUE, 2)
# panel 3
add(pr_black_t, pr_black_v, BLACK, 3)
add(pr_red_t, pr_red_v, RED, 3)
add(pr_blue_t, pr_blue_v, BLUE, 3)
# panel 4
DASH = "14px,7px"
add(cc_in_black_t, cc_in_black_v, BLACK, 4, dash=DASH, width=1.7)
add(cc_in_red_t, cc_in_red_v, RED, 4, dash=DASH, width=1.7)
add(cc_in_blue_t, cc_in_blue_v, BLUE, 4, dash=DASH, width=1.7)
add(cc_out_black_t, cc_out_black_v, BLACK, 4, width=1.7)
add(cc_out_red_t, cc_out_red_v, RED, 4, width=1.7)
add(cc_out_blue_t, cc_out_blue_v, BLUE, 4, width=1.7)
# panel 5
add(zf_black_t, zf_black_v, BLACK, 5)
add(zf_red_t, zf_red_v, RED, 5)
add(zf_blue_t, zf_blue_v, BLUE, 5)
# panel 6
add(da_black_t, da_black_v, BLACK, 6)
add(da_red_t, da_red_v, RED, 6)
add(da_blue_t, da_blue_v, BLUE, 6)
# panel 7
add(nd_in_black_t, nd_in_black_v, BLACK, 7)
add(nd_in_red_t, nd_in_red_v, RED, 7)
add(nd_in_blue_t, nd_in_blue_v, BLUE, 7)
# panel 8
add(nd_out_black_t, nd_out_black_v, BLACK, 8)
add(nd_out_red_t, nd_out_red_v, RED, 8)
add(nd_out_blue_t, nd_out_blue_v, BLUE, 8)


def txt(x, y, s, size=45, color="black", xanchor="left"):
    fig.add_annotation(x=x / W, y=1 - y / H, xref="paper", yref="paper", text=s,
                       showarrow=False, xanchor=xanchor, yanchor="middle",
                       font=dict(family=FONT, size=size, color=color))


txt(136, 62, "n_e (x 1e19 m^-3)")
txt(370, 222, "I_p (MA)")
txt(138, 336, "Stored Energy (kJ)")
txt(138, 608, "Rad. power (MW)")
txt(138, 878, "c_C")
txt(129, 940, "R=138.9 cm", size=35)
txt(392, 1029, "R=102.8 cm", size=36)
txt(964, 66, "Z_eff (0)")
txt(874, 336, "Divertor D_a (a.u.)")
txt(887, 606, "n_D (x1e19 m^-3)")
txt(1102, 774, "R=102.8 cm", size=36)
txt(872, 876, "n_D (x1e19 m^-3)")
txt(975, 1046, "R=138.9 cm", size=35)
txt(402, 1158, "Time (s)", size=45, xanchor="center")
txt(1147, 1160, "Time (s)", size=45, xanchor="center")
# legend texts
txt(258, 465, "2500 3000", size=30)
txt(258, 535, "D2 Injection", size=30)
txt(692, 737, "138767", size=27, color=BLACK, xanchor="right")
txt(692, 767, "138768", size=27, color=RED, xanchor="right")
txt(692, 796, "138769", size=27, color=BLUE, xanchor="right")

# legend swatches
fig.add_shape(type="rect", xref="paper", yref="paper", x0=260 / W, x1=323 / W,
              y0=1 - 509 / H, y1=1 - 489 / H, fillcolor=RED, line=dict(width=0))
fig.add_shape(type="rect", xref="paper", yref="paper", x0=336 / W, x1=399 / W,
              y0=1 - 507 / H, y1=1 - 487 / H, fillcolor=BLUE, line=dict(width=0))

fig.update_layout(
    width=W, height=H, margin=dict(l=0, r=0, t=0, b=0, pad=0, autoexpand=False),
    paper_bgcolor="white", plot_bgcolor="white",
    font=dict(family=FONT, color="black"),
    showlegend=False,
)

fig.write_html("out.html")
